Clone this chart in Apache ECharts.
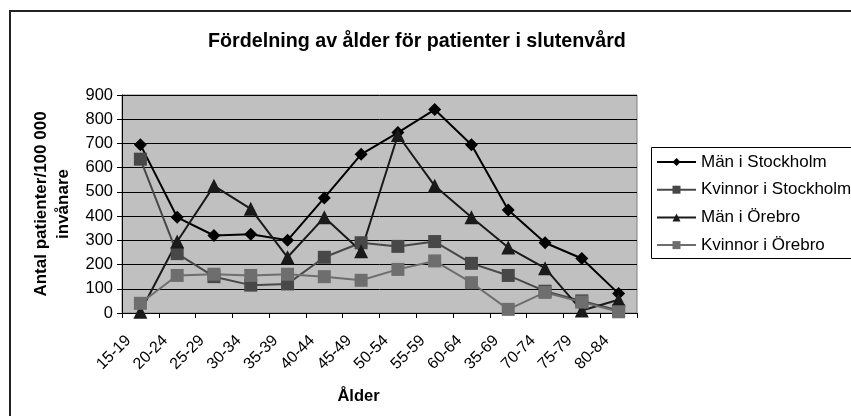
<!DOCTYPE html>
<html>
<head>
<meta charset="utf-8">
<script src="https://cdn.jsdelivr.net/npm/echarts@6/dist/echarts.min.js"></script>
<style>
  html, body { margin: 0; padding: 0; background: #fff; }
  #chart { width: 851px; height: 416px; }
</style>
</head>
<body>
<div id="chart"></div>
<script>
// Age groups (the 65-69 group is labelled "35-69" in the source table)
const ageGroups = ['15-19', '20-24', '25-29', '30-34', '35-39', '40-44', '45-49',
                   '50-54', '55-59', '60-64', '35-69', '70-74', '75-79', '80-84'];

// Patients per 100 000 inhabitants
const menStockholm   = [695, 395, 320, 325, 300, 475, 655, 745, 840, 695, 425, 290, 225, 80];
const womenStockholm = [635, 245, 150, 115, 120, 230, 290, 275, 295, 205, 155, 90, 50, 10];
const menOrebro      = [5, 295, 525, 430, 230, 395, 255, 735, 525, 395, 270, 185, 10, 55];
const womenOrebro    = [40, 155, 160, 155, 160, 150, 135, 180, 215, 125, 15, 85, 45, 5];

const yTicks = { min: 0, max: 900, step: 100 };

const FONT = '"Liberation Sans", Arial, sans-serif';

function lineSeries(name, data, color, symbol, size) {
  return {
    name: name,
    type: 'line',
    data: data,
    symbol: symbol,
    symbolSize: size,
    showAllSymbol: true,
    lineStyle: { color: color, width: 2 },
    itemStyle: { color: color, borderWidth: 0 },
    emphasis: { disabled: true },
    animation: false
  };
}

const chart = echarts.init(document.getElementById('chart'), null, { renderer: 'canvas' });

chart.setOption({
  animation: false,
  backgroundColor: '#ffffff',
  textStyle: { fontFamily: FONT },
  title: {
    text: 'Fördelning av ålder för patienter i slutenvård',
    left: 208,
    top: 32,
    padding: 0,
    textStyle: { fontFamily: FONT, fontSize: 19.7, fontWeight: 'bold', color: '#000' }
  },
  graphic: [
    {
      // outer chart frame (runs past the right and bottom edges)
      type: 'rect',
      silent: true,
      shape: { x: 10, y: 11, width: 900, height: 500 },
      style: { fill: 'none', stroke: '#222', lineWidth: 2 },
      z: 0
    },
    {
      // legend frame
      type: 'rect',
      silent: true,
      shape: { x: 651.5, y: 147.5, width: 260, height: 111 },
      style: { fill: '#fff', stroke: '#000', lineWidth: 1 },
      z: 1
    }
  ],
  legend: {
    orient: 'vertical',
    left: 651,
    top: 147,
    padding: [5, 5, 3, 5],
    itemGap: 7.7,
    itemWidth: 39,
    itemHeight: 10,
    selectedMode: false,
    z: 5,
    textStyle: { fontFamily: FONT, fontSize: 17, color: '#000', lineHeight: 20 },
    data: ['Män i Stockholm', 'Kvinnor i Stockholm', 'Män i Örebro', 'Kvinnor i Örebro']
  },
  grid: {
    left: 122,
    top: 95,
    width: 515,
    height: 218,
    show: true,
    backgroundColor: '#c0c0c0',
    borderColor: '#808080',
    borderWidth: 1
  },
  xAxis: {
    type: 'category',
    data: ageGroups,
    boundaryGap: true,
    name: 'Ålder',
    nameLocation: 'middle',
    nameGap: 75,
    nameTextStyle: { fontFamily: FONT, fontSize: 16.5, fontWeight: 'bold', color: '#000', padding: [0, 42, 0, 0] },
    axisLine: { show: true, lineStyle: { color: '#000', width: 1 } },
    axisTick: { show: true, alignWithLabel: false, length: 5, lineStyle: { color: '#000' } },
    axisLabel: {
      interval: 0, rotate: 45, margin: 13,
      padding: [0, 17, 0, 0],
      fontFamily: FONT, fontSize: 16, color: '#000'
    },
    splitLine: { show: false }
  },
  yAxis: {
    type: 'value',
    min: yTicks.min,
    max: yTicks.max,
    interval: yTicks.step,
    name: 'Antal patienter/100 000\ninvånare',
    nameLocation: 'middle',
    nameGap: 48,
    nameTextStyle: { fontFamily: FONT, fontSize: 17, fontWeight: 'bold', color: '#000', lineHeight: 22, align: 'center' },
    axisLine: { show: true, lineStyle: { color: '#000', width: 1 } },
    axisTick: { show: true, length: 5, lineStyle: { color: '#000' } },
    axisLabel: { margin: 9, fontFamily: FONT, fontSize: 16.5, color: '#000' },
    splitLine: { show: true, lineStyle: { color: '#000', width: 1 } }
  },
  series: [
    lineSeries('Män i Stockholm', menStockholm, '#000000', 'diamond', 13),
    lineSeries('Kvinnor i Stockholm', womenStockholm, '#484848', 'rect', 13),
    lineSeries('Män i Örebro', menOrebro, '#1a1a1a', 'triangle', 14),
    lineSeries('Kvinnor i Örebro', womenOrebro, '#6e6e6e', 'rect', 13)
  ]
});
</script>
</body>
</html>
